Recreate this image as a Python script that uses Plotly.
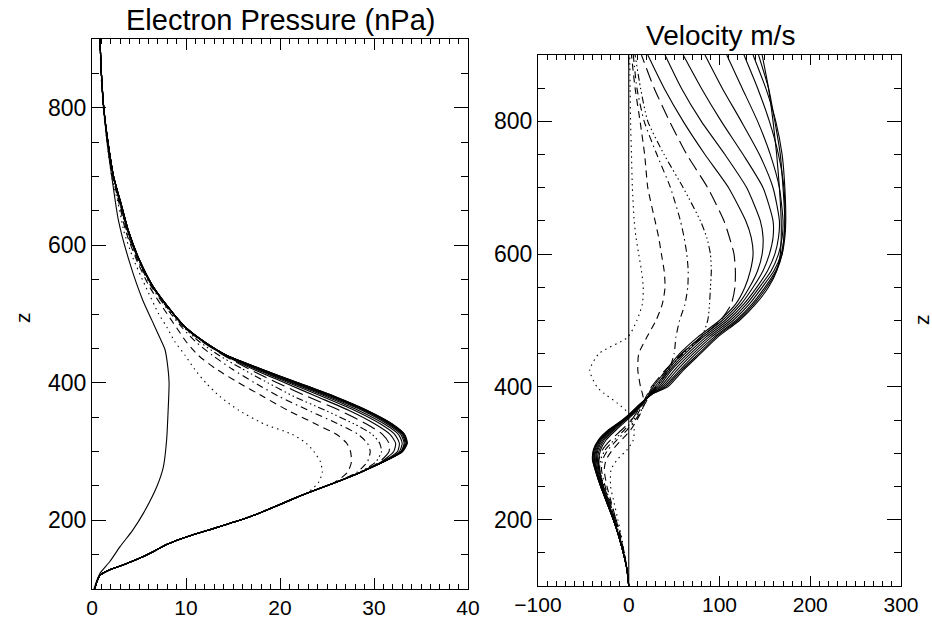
import plotly.graph_objects as go

# ---------------- Left panel: Electron pressure (nPa) ----------------
# initial profile
Z0 = [100, 110, 123, 140, 162, 185, 210, 249, 278, 317, 360, 400, 430, 448, 457,
      475, 490, 520, 575, 637, 700, 750, 800, 850, 900]
P0 = [0.2, 0.45, 0.85, 1.9, 3.0, 4.3, 5.46, 6.9, 7.6, 7.94, 8.1, 8.2, 8.0, 7.77, 7.5,
      6.9, 6.4, 5.4, 4.0, 2.8, 2.1, 1.6, 1.25, 1.0, 0.85]

# common lower branch of the later profiles
LOWER_Z = [100, 110, 120, 128, 136, 145, 155, 165, 176, 190, 205, 220, 230]
LOWER_P = [0.3, 0.5, 0.85, 1.9, 3.5, 5.1, 6.6, 8.0, 10.1, 13.4, 16.8, 19.5, 21.2]

Z_UP = [240, 255, 270, 285, 300, 312, 325, 340, 360, 380, 400, 420, 440, 460, 480,
        500, 540, 580, 620, 660, 700, 750, 800, 850, 900]
P_UP = [
    [22.9, 24.1, 24.5, 24.3, 23.6, 22.8, 21.3, 18.3, 15.6, 13.6, 12.1, 10.9, 9.9, 8.8, 8.0,
     7.1, 5.7, 4.4, 3.4, 2.8, 2.1, 1.6, 1.2, 0.95, 0.85],
    [23.0, 25.8, 27.2, 27.6, 27.5, 27.1, 26.0, 23.8, 20.8, 18.2, 15.6, 13.2, 11.3, 10.0, 9.0,
     8.0, 6.1, 4.7, 3.6, 2.9, 2.2, 1.65, 1.22, 0.98, 0.85],
    [23.0, 25.9, 28.2, 29.3, 29.6, 29.3, 28.3, 26.2, 23.0, 19.9, 17.3, 14.9, 12.8, 11.0, 9.6,
     8.4, 6.3, 4.8, 3.7, 3.0, 2.25, 1.68, 1.23, 0.99, 0.85],
    [23.0, 25.9, 28.5, 30.2, 30.8, 30.6, 29.8, 27.9, 24.8, 21.5, 18.7, 16.0, 13.5, 11.4, 9.8,
     8.5, 6.4, 4.9, 3.8, 3.0, 2.27, 1.69, 1.24, 0.99, 0.85],
    [23.0, 25.9, 28.6, 30.6, 31.6, 31.6, 30.9, 29.2, 26.3, 22.9, 19.7, 16.7, 14.0, 11.7, 9.9,
     8.6, 6.4, 4.9, 3.8, 3.0, 2.27, 1.69, 1.24, 0.99, 0.85],
    [23.0, 25.9, 28.6, 30.8, 32.1, 32.3, 31.7, 30.1, 27.3, 23.9, 20.5, 17.1, 14.1, 11.8, 9.95,
     8.65, 6.45, 4.95, 3.85, 3.05, 2.28, 1.69, 1.25, 1.0, 0.85],
    [23.0, 25.9, 28.6, 30.9, 32.5, 32.7, 32.2, 30.7, 27.9, 24.5, 20.9, 17.4, 14.2, 11.85, 9.97,
     8.67, 6.47, 4.97, 3.87, 3.07, 2.29, 1.7, 1.25, 1.0, 0.85],
    [23.0, 25.9, 28.6, 30.95, 32.7, 33.0, 32.6, 31.1, 28.3, 24.9, 21.2, 17.6, 14.25, 11.87, 9.98,
     8.68, 6.48, 4.98, 3.88, 3.08, 2.29, 1.7, 1.25, 1.0, 0.85],
    [23.0, 25.9, 28.6, 31.0, 32.85, 33.2, 32.85, 31.4, 28.7, 25.2, 21.4, 17.75, 14.27, 11.88, 9.99,
     8.69, 6.49, 4.99, 3.89, 3.09, 2.3, 1.7, 1.25, 1.0, 0.85],
    [23.0, 25.9, 28.6, 31.0, 32.9, 33.3, 33.0, 31.6, 28.9, 25.45, 21.6, 17.85, 14.28, 11.89, 10.0,
     8.7, 6.5, 5.0, 3.9, 3.1, 2.3, 1.7, 1.25, 1.0, 0.85],
    [23.0, 25.9, 28.6, 31.0, 32.95, 33.4, 33.1, 31.75, 29.05, 25.6, 21.75, 17.9, 14.29, 11.9, 10.0,
     8.7, 6.5, 5.0, 3.9, 3.1, 2.3, 1.7, 1.25, 1.0, 0.85],
    [23.0, 25.9, 28.6, 31.0, 33.0, 33.45, 33.15, 31.85, 29.15, 25.7, 21.85, 17.95, 14.3, 11.9, 10.0,
     8.7, 6.5, 5.0, 3.9, 3.1, 2.3, 1.7, 1.25, 1.0, 0.85],
    [23.0, 25.9, 28.6, 31.0, 33.0, 33.5, 33.2, 31.9, 29.2, 25.8, 21.9, 18.0, 14.3, 11.9, 10.0,
     8.7, 6.5, 5.0, 3.9, 3.1, 2.3, 1.7, 1.25, 1.0, 0.85],
    [23.0, 25.9, 28.6, 31.05, 33.05, 33.55, 33.25, 31.95, 29.25, 25.85, 21.95, 18.0, 14.3, 11.9, 10.0,
     8.7, 6.5, 5.0, 3.9, 3.1, 2.3, 1.7, 1.25, 1.0, 0.85],
]

# ---------------- Right panel: velocity (m/s) ----------------
Z_V = [100, 125, 150, 175, 200, 225, 250, 275, 290, 305, 320, 335, 350, 360, 375,
       390, 400, 425, 450, 475, 500, 525, 550, 575, 600, 625, 650, 700, 750, 800, 850, 900]
V0 = [0] * len(Z_V)
V_CURVES = [
    # dotted
    [0, -2, -5, -8, -12, -16, -20, -19.5, -13, -2, 5, 6, 3, 0, -12,
     -27, -35, -43, -33, -1, 9, 15, 16, 14, 11, 8, 6, 4, 3, 2, 1.5, 1],
    # dashed
    [0, -2, -5, -9, -14, -19, -24, -27, -25, -18, -8, 2, 9, 13, 17,
     15, 13, 10, 11, 20, 30, 37, 40, 39, 36, 33, 29, 21, 17.5, 12.5, 7, 3],
    # dash-dot
    [0, -2, -5, -9, -14, -20, -26, -30, -29, -23, -13, -2, 7, 12, 18,
     24, 30, 44, 50, 52, 56, 62, 65, 65.5, 64, 61, 57, 46, 31, 17, 9, 5],
    # dash-dot-dot-dot
    [0, -2, -5, -10, -15, -21, -27, -32, -31, -26, -16, -5, 5, 10, 16,
     22, 26, 42, 60, 80, 87, 89, 90, 91, 90, 86, 79, 60, 39, 21, 13, 7],
    # long dash
    [0, -2, -6, -10, -15, -21, -28, -33, -33, -29, -20, -8, 3, 8, 15,
     21, 25, 40, 58, 80, 101, 113, 117, 117.5, 116, 111, 105, 87, 64, 45, 28, 14],
    # solids
    [0, -2, -6, -11, -16, -22, -28, -32, -33, -31, -25, -14, -2, 6, 16,
     23, 27, 41, 56, 76, 100, 118, 128, 134, 137, 135, 129, 110, 84, 60, 39, 21],
    [0, -2, -6, -11, -16, -23, -29, -33, -34.5, -32.5, -27, -16, -3.5, 5, 15.5,
     23.5, 29, 43, 59, 79, 103, 121, 133, 142, 147, 148, 145, 130, 106, 80, 58, 40],
    [0, -2, -6, -11, -17, -23, -29.5, -34, -35.5, -34, -28.5, -17.5, -4.5, 4, 15,
     24, 31, 45, 62, 82, 106, 124, 137, 148, 155, 159, 159, 148, 126, 102, 80, 60],
    [0, -2, -6, -11, -17, -23.5, -30, -35, -36.5, -35, -30, -19, -5, 3.5, 14.5,
     24.5, 33, 47, 65, 85, 109, 127, 141, 153, 161, 165, 166, 159, 144, 124, 103, 84],
    [0, -2, -6, -11, -17, -23.5, -30, -35.5, -37.5, -36, -31, -20, -5.5, 3, 14,
     25, 35, 50, 68, 88, 112, 130, 144, 157, 165, 169, 170, 166, 156, 142, 125, 108],
    [0, -2, -6, -11, -17, -24, -30.5, -36, -38, -37, -32, -21, -6, 2.5, 14,
     25.5, 37, 53, 71, 91, 115, 133, 147, 160, 168, 171, 172, 171, 165, 155, 142, 127],
    [0, -2, -6, -11, -17, -24, -31, -36.5, -39, -38, -32.5, -21.5, -6.5, 2, 13.5,
     26, 39, 56, 74, 94, 118, 136, 150, 162, 169, 172, 173, 172, 169, 162, 151, 137],
    [0, -2, -6, -11, -17, -24, -31, -37, -39.5, -38.5, -33, -22, -7, 2, 13.5,
     26.5, 41, 58, 77, 96, 120, 138, 152, 163, 169, 171, 172, 170, 167, 161, 154, 143],
    [0, -2, -6, -11, -17, -24, -31, -37, -40, -39, -33.5, -22.5, -7, 1.5, 13,
     27, 43, 60, 79, 98, 122, 140, 154, 163, 167, 168, 168, 166, 163, 159, 154, 147],
]

X_TICKS_P = [0, 10, 20, 30, 40]
X_TICKS_V = [-100, 0, 100, 200, 300]
Y_TICKS = [200, 400, 600, 800]

STYLES = ["1.5px,4px", "7px,5px", "7px,4px,1.5px,4px",
          "7px,3px,1.5px,3px,1.5px,3px,1.5px,3px", "14px,6px"]

fig = go.Figure()
LW = 1.1


def style_for(i):
    return STYLES[i] if i < len(STYLES) else "solid"


fig.add_trace(go.Scatter(x=P0, y=Z0, mode="lines", xaxis="x", yaxis="y",
                         line=dict(color="black", width=LW, shape="spline", smoothing=0.6)))
for i, pu in enumerate(P_UP):
    fig.add_trace(go.Scatter(x=LOWER_P + pu, y=LOWER_Z + Z_UP, mode="lines",
                             xaxis="x", yaxis="y",
                             line=dict(color="black", width=LW, dash=style_for(i),
                                       shape="spline", smoothing=0.6)))

fig.add_trace(go.Scatter(x=V0, y=Z_V, mode="lines", xaxis="x2", yaxis="y2",
                         line=dict(color="black", width=LW)))
for i, vc in enumerate(V_CURVES):
    fig.add_trace(go.Scatter(x=vc, y=Z_V, mode="lines", xaxis="x2", yaxis="y2",
                             line=dict(color="black", width=LW, dash=style_for(i),
                                       shape="spline", smoothing=0.6)))

FONT = "Liberation Sans, Arial, sans-serif"
common = dict(showline=True, linecolor="black", linewidth=1, mirror="allticks",
              ticks="inside", tickcolor="black", tickwidth=1, showgrid=False,
              zeroline=False, automargin=False)
YFONT = dict(family=FONT, size=23, color="black")
XFONT = dict(family=FONT, size=21, color="black")

fig.update_layout(
    width=932, height=619, margin=dict(l=0, r=0, t=0, b=0, pad=0, autoexpand=False),
    paper_bgcolor="white", plot_bgcolor="white", showlegend=False,
    xaxis=dict(domain=[92 / 932, 468 / 932], range=[0, 40], tickvals=X_TICKS_P,
               ticklen=11, tickfont=XFONT,
               minor=dict(ticks="inside", dtick=1, tick0=0, ticklen=5,
                          tickcolor="black", tickwidth=1), anchor="y", **common),
    yaxis=dict(domain=[1 - 589 / 619, 1 - 39 / 619], range=[100, 900], tickvals=Y_TICKS,
               ticklen=14, tickfont=YFONT,
               minor=dict(ticks="inside", dtick=50, tick0=0, ticklen=7,
                          tickcolor="black", tickwidth=1), anchor="x", **common),
    xaxis2=dict(domain=[538 / 932, 901 / 932], range=[-100, 300], tickvals=X_TICKS_V,
                ticklen=10, tickfont=XFONT,
                minor=dict(ticks="inside", dtick=10, tick0=0, ticklen=5,
                           tickcolor="black", tickwidth=1), anchor="y2", **common),
    yaxis2=dict(domain=[1 - 586 / 619, 1 - 55 / 619], range=[100, 900], tickvals=Y_TICKS,
                ticklen=14, tickfont=YFONT,
                minor=dict(ticks="inside", dtick=50, tick0=0, ticklen=7,
                           tickcolor="black", tickwidth=1), anchor="x2", **common),
    annotations=[
        dict(text="Electron Pressure (nPa)", x=280 / 932, y=1 - 20 / 619, xref="paper",
             yref="paper", xanchor="center", yanchor="middle", showarrow=False,
             font=dict(family=FONT, size=29, color="black")),
        dict(text="Velocity m/s", x=720 / 932, y=1 - 36 / 619, xref="paper",
             yref="paper", xanchor="center", yanchor="middle", showarrow=False,
             font=dict(family=FONT, size=28, color="black")),
        dict(text="z", x=22 / 932, y=1 - 318 / 619, xref="paper", yref="paper",
             xanchor="center", yanchor="middle", showarrow=False, textangle=-90,
             font=dict(family=FONT, size=21, color="black")),
        dict(text="z", x=921 / 932, y=1 - 320 / 619, xref="paper", yref="paper",
             xanchor="center", yanchor="middle", showarrow=False, textangle=-90,
             font=dict(family=FONT, size=21, color="black")),
    ],
)

fig.write_html("out.html", config={"displayModeBar": False},
               post_script="document.body.style.margin='0px';document.body.style.overflow='hidden';")
